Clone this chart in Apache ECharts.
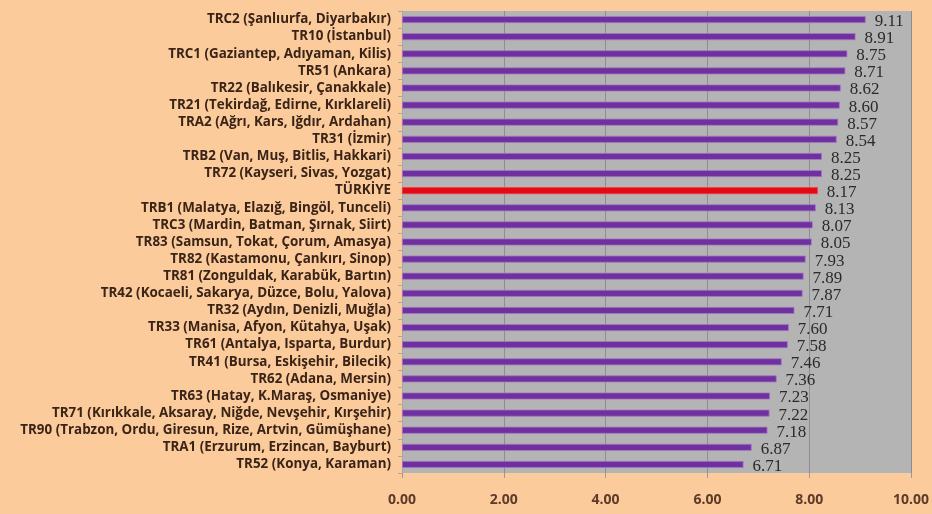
<!DOCTYPE html>
<html>
<head>
<meta charset="utf-8">
<script src="https://cdn.jsdelivr.net/npm/echarts@6/dist/echarts.min.js"></script>
<style>
  html, body { margin: 0; padding: 0; background: #fccb9b; }
  #chart { width: 932px; height: 514px; }
</style>
</head>
<body>
<div id="chart"></div>
<script>
// Regions, listed top to bottom
const regions = [
  'TRC2 (Şanlıurfa, Diyarbakır)',
  'TR10 (İstanbul)',
  'TRC1 (Gaziantep, Adıyaman, Kilis)',
  'TR51 (Ankara)',
  'TR22 (Balıkesir, Çanakkale)',
  'TR21 (Tekirdağ, Edirne, Kırklareli)',
  'TRA2 (Ağrı, Kars, Iğdır, Ardahan)',
  'TR31 (İzmir)',
  'TRB2 (Van, Muş, Bitlis, Hakkari)',
  'TR72 (Kayseri, Sivas, Yozgat)',
  'TÜRKİYE',
  'TRB1 (Malatya, Elazığ, Bingöl, Tunceli)',
  'TRC3 (Mardin, Batman, Şırnak, Siirt)',
  'TR83 (Samsun, Tokat, Çorum, Amasya)',
  'TR82 (Kastamonu, Çankırı, Sinop)',
  'TR81 (Zonguldak, Karabük, Bartın)',
  'TR42 (Kocaeli, Sakarya, Düzce, Bolu, Yalova)',
  'TR32 (Aydın, Denizli, Muğla)',
  'TR33 (Manisa, Afyon, Kütahya, Uşak)',
  'TR61 (Antalya, Isparta, Burdur)',
  'TR41 (Bursa, Eskişehir, Bilecik)',
  'TR62 (Adana, Mersin)',
  'TR63 (Hatay, K.Maraş, Osmaniye)',
  'TR71 (Kırıkkale, Aksaray, Niğde, Nevşehir, Kırşehir)',
  'TR90 (Trabzon, Ordu, Giresun, Rize, Artvin, Gümüşhane)',
  'TRA1 (Erzurum, Erzincan, Bayburt)',
  'TR52 (Konya, Karaman)'
];

// Values for each region, same order
const values = [
  9.11, 8.91, 8.75, 8.71, 8.62, 8.60, 8.57, 8.54, 8.25, 8.25,
  8.17, 8.13, 8.07, 8.05, 7.93, 7.89, 7.87, 7.71, 7.60, 7.58,
  7.46, 7.36, 7.23, 7.22, 7.18, 6.87, 6.71
];

// Country average is highlighted
const highlight = 'TÜRKİYE';

// Value axis ticks
const xTicks = [0, 2, 4, 6, 8, 10];

const chart = echarts.init(document.getElementById('chart'), null, { renderer: 'canvas' });

const barData = values.map((v, i) => ({
  value: v,
  itemStyle: regions[i] === highlight
    ? { color: '#e50914', borderColor: '#f0404a', borderWidth: 0.8 }
    : { color: '#7030a0', borderColor: '#a27ac4', borderWidth: 0.8 }
}));

chart.setOption({
  backgroundColor: '#fccb9b',
  animation: false,
  grid: {
    left: 402, right: 20, top: 11, bottom: 41,
    show: true, backgroundColor: '#b4b4b4', borderWidth: 0
  },
  xAxis: {
    type: 'value',
    min: xTicks[0],
    max: xTicks[xTicks.length - 1],
    interval: 2,
    axisLine: { show: false },
    axisTick: { show: true, length: 5, lineStyle: { color: '#9a9a9a' } },
    axisLabel: {
      margin: 20,
      color: '#5e3a28',
      fontFamily: 'Open Sans',
      fontWeight: 'bold',
      fontSize: 14,
      formatter: v => v.toFixed(2)
    },
    splitLine: { show: true, lineStyle: { color: '#8e8e8e', width: 1 } }
  },
  yAxis: {
    type: 'category',
    inverse: true,
    data: regions,
    axisLine: { show: true, lineStyle: { color: '#a8a8a8' } },
    axisTick: { show: true, length: 4, lineStyle: { color: '#a8a8a8' } },
    axisLabel: {
      interval: 0,
      margin: 11,
      color: '#3a2418',
      fontFamily: 'Open Sans',
      fontWeight: 'bold',
      fontSize: 13.4,
      lineHeight: 15
    }
  },
  series: [{
    type: 'bar',
    data: barData,
    barWidth: 7,
    label: {
      show: true,
      position: 'right',
      distance: 9,
      offset: [0, 2],
      color: '#2a2a2a',
      fontFamily: 'Liberation Serif',
      fontSize: 17,
      formatter: p => p.value.toFixed(2)
    }
  }]
});
</script>
</body>
</html>
